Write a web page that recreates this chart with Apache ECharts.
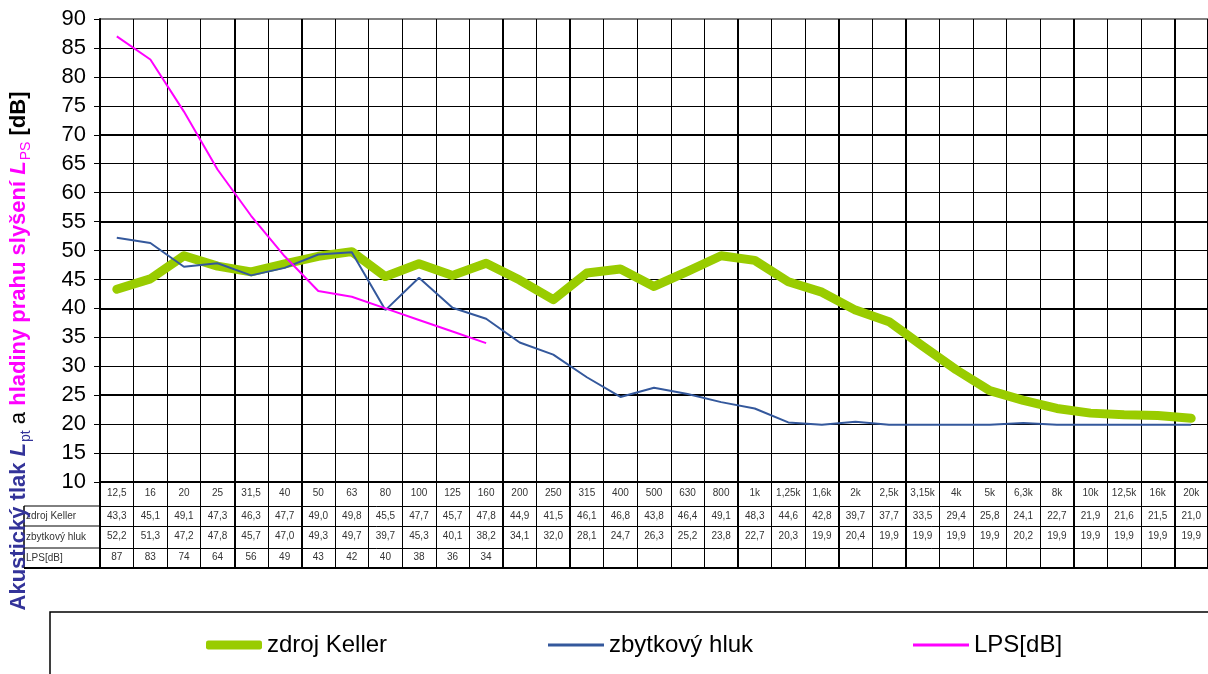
<!DOCTYPE html>
<html>
<head>
<meta charset="utf-8">
<script src="https://cdn.jsdelivr.net/npm/echarts@6/dist/echarts.min.js"></script>
<style>
  html, body { margin: 0; padding: 0; background: #fff; }
  #chart { width: 1208px; height: 674px; }
</style>
</head>
<body>
<div id="chart"></div>
<script>
// frekvence (tercie) - popisky kategorii
const categories = ['12,5', '16', '20', '25', '31,5', '40', '50', '63', '80', '100', '125', '160',
  '200', '250', '315', '400', '500', '630', '800', '1k', '1,25k', '1,6k', '2k', '2,5k', '3,15k',
  '4k', '5k', '6,3k', '8k', '10k', '12,5k', '16k', '20k'];

const keller = [43.3, 45.1, 49.1, 47.3, 46.3, 47.7, 49.0, 49.8, 45.5, 47.7, 45.7, 47.8,
  44.9, 41.5, 46.1, 46.8, 43.8, 46.4, 49.1, 48.3, 44.6, 42.8, 39.7, 37.7, 33.5,
  29.4, 25.8, 24.1, 22.7, 21.9, 21.6, 21.5, 21.0];

const residual = [52.2, 51.3, 47.2, 47.8, 45.7, 47.0, 49.3, 49.7, 39.7, 45.3, 40.1, 38.2,
  34.1, 32.0, 28.1, 24.7, 26.3, 25.2, 23.8, 22.7, 20.3, 19.9, 20.4, 19.9, 19.9,
  19.9, 19.9, 20.2, 19.9, 19.9, 19.9, 19.9, 19.9];

const lps = [87, 83, 74, 64, 56, 49, 43, 42, 40, 38, 36, 34];

const seriesNames = ['zdroj Keller', 'zbytkový hluk', 'LPS[dB]'];
const yMin = 10, yMax = 90, yStep = 5;

// silnejsi svisle cary mrizky (index leve hrany kategorie) - jen vzhled
const heavyCols = [0, 4, 6, 12, 14, 19, 22, 24, 29, 32];

const FONT = '"Liberation Sans", Arial, sans-serif';
const fmt1 = (v) => (v == null ? '' : v.toFixed(1).replace('.', ','));

// jeden radek tabulky = jedna kategoriova osa posunuta dolu
function tableRow(offset, tickLen, margin, label, lineWidth) {
  return {
    type: 'category',
    data: categories,
    position: 'bottom',
    offset: offset,
    boundaryGap: true,
    axisLine: { show: true, onZero: false, lineStyle: { color: '#000', width: lineWidth } },
    axisTick: { show: tickLen > 0, interval: 0, length: tickLen, lineStyle: { color: '#000', width: 1 } },
    axisLabel: {
      show: !!label, interval: 0, margin: margin, fontSize: 10, color: '#333', fontFamily: FONT,
      formatter: label ? (v, i) => label(i) : undefined
    },
    splitLine: { show: false }
  };
}

// legenda: kazda polozka zvlast, aby mela vlastni tloustku cary
function legendItem(name, left, height, icon) {
  return {
    data: [name], left: left, top: 633, icon: icon, padding: 0,
    itemWidth: 56, itemHeight: height,
    textStyle: { fontSize: 24, color: '#000', fontFamily: FONT }
  };
}

const chart = echarts.init(document.getElementById('chart'));

const mainX = tableRow(0, 24, 6, (i) => categories[i], 2);
mainX.splitLine = { show: true, interval: 0, lineStyle: { color: '#000', width: 1 } };

const heavyX = {
  type: 'category', data: categories, position: 'bottom', offset: 0, boundaryGap: true,
  axisLine: { show: false, onZero: false },
  axisLabel: { show: false },
  axisTick: { show: true, interval: (i) => heavyCols.includes(i), length: 86, lineStyle: { color: '#000', width: 2 } },
  splitLine: { show: true, interval: (i) => heavyCols.includes(i), lineStyle: { color: '#000', width: 2 } }
};

const gridColors = [];
for (let v = yMin; v <= yMax; v += yStep) gridColors.push(v === yMax ? '#808080' : '#000');

const headerRows = [
  { y: 506, name: seriesNames[0] },
  { y: 526, name: seriesNames[1] },
  { y: 548, name: seriesNames[2] }
];
const headerGraphics = [];
headerRows.forEach((r, k) => {
  const next = k < headerRows.length - 1 ? headerRows[k + 1].y : 568;
  headerGraphics.push({ type: 'line', shape: { x1: 24, y1: r.y, x2: 100, y2: r.y }, style: { stroke: '#000', lineWidth: 1 } });
  headerGraphics.push({
    type: 'text', x: 26, y: (r.y + next) / 2,
    style: { text: r.name, fontSize: 10, fill: '#333', fontFamily: FONT, verticalAlign: 'middle', align: 'left' }
  });
});
headerGraphics.push({ type: 'line', shape: { x1: 24, y1: 568, x2: 100, y2: 568 }, style: { stroke: '#000', lineWidth: 2 } });
headerGraphics.push({ type: 'line', shape: { x1: 24, y1: 506, x2: 24, y2: 568 }, style: { stroke: '#000', lineWidth: 1.5 } });

chart.setOption({
  animation: false,
  textStyle: { fontFamily: FONT },
  grid: { left: 100, right: 0, top: 19, bottom: 192, containLabel: false, outerBoundsMode: 'none' },
  legend: [
    legendItem(seriesNames[0], 206, 9, 'roundRect'),
    legendItem(seriesNames[1], 548, 3, 'rect'),
    legendItem(seriesNames[2], 913, 3, 'rect')
  ],
  xAxis: [
    mainX,
    tableRow(24, 20, 5, (i) => fmt1(keller[i]), 1),
    tableRow(44, 22, 5, (i) => fmt1(residual[i]), 1),
    tableRow(66, 20, 4, (i) => (lps[i] != null ? String(lps[i]) : ''), 1),
    tableRow(86, 0, 0, null, 2),
    heavyX
  ],
  yAxis: [
    {
      type: 'value', min: yMin, max: yMax, interval: yStep,
      axisLine: { show: true, lineStyle: { color: '#000', width: 2 } },
      axisTick: { show: true, length: 6, lineStyle: { color: '#000', width: 1 } },
      axisLabel: { fontSize: 22, color: '#000', margin: 14, fontFamily: FONT },
      splitLine: { show: true, lineStyle: { color: gridColors, width: 1 } }
    },
    {
      // skryta osa jen pro silnejsi vodorovne cary (10, 25, 40, 55, 70)
      type: 'value', min: 0, max: yMax - yMin, interval: 15, position: 'left',
      axisLine: { show: false }, axisTick: { show: false }, axisLabel: { show: false },
      splitLine: { show: true, lineStyle: { color: ['#000', '#000', '#000', '#000', '#000', 'rgba(0,0,0,0)', '#808080'], width: 2 } }
    }
  ],
  series: [
    {
      name: seriesNames[0], type: 'line', data: keller, symbol: 'none',
      lineStyle: { color: '#99cc00', width: 9, cap: 'round', join: 'round' },
      itemStyle: { color: '#99cc00' }
    },
    {
      name: seriesNames[1], type: 'line', data: residual, symbol: 'none',
      lineStyle: { color: '#34589c', width: 2 },
      itemStyle: { color: '#34589c' }
    },
    {
      name: seriesNames[2], type: 'line', data: lps, symbol: 'none',
      lineStyle: { color: '#ff00ff', width: 2 },
      itemStyle: { color: '#ff00ff' }
    }
  ],
  graphic: headerGraphics.concat([
    {
      type: 'rect', shape: { x: 50, y: 612, width: 1200, height: 120 },
      style: { fill: 'none', stroke: '#000', lineWidth: 1.5 }, z: -1
    },
    {
      type: 'text', x: 19, y: 351, rotation: Math.PI / 2, z: 10,
      style: {
        text: '{b|Akustický tlak }{bi|L}{bs|pt}{n| a }{m|hladiny prahu slyšení }{mi|L}{ms|PS}{k| [dB]}',
        align: 'center', verticalAlign: 'middle', fontFamily: FONT,
        rich: {
          b: { fontSize: 22, fontWeight: 'bold', fill: '#333399', fontFamily: FONT, lineHeight: 28 },
          bi: { fontSize: 22, fontWeight: 'bold', fontStyle: 'italic', fill: '#333399', fontFamily: FONT, lineHeight: 28 },
          bs: { fontSize: 14, fill: '#333399', fontFamily: FONT, lineHeight: 28, verticalAlign: 'bottom', padding: [8, 0, 0, 1] },
          n: { fontSize: 22, fill: '#000', fontFamily: FONT, lineHeight: 28 },
          m: { fontSize: 22, fontWeight: 'bold', fill: '#ff00ff', fontFamily: FONT, lineHeight: 28 },
          mi: { fontSize: 22, fontWeight: 'bold', fontStyle: 'italic', fill: '#ff00ff', fontFamily: FONT, lineHeight: 28 },
          ms: { fontSize: 14, fill: '#ff00ff', fontFamily: FONT, lineHeight: 28, verticalAlign: 'bottom', padding: [8, 0, 0, 1] },
          k: { fontSize: 22, fontWeight: 'bold', fill: '#000', fontFamily: FONT, lineHeight: 28 }
        }
      }
    }
  ])
});
</script>
</body>
</html>
